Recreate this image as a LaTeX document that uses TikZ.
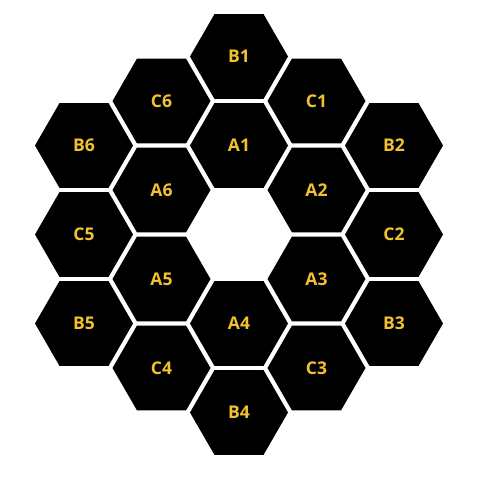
\documentclass[tikz,border=0pt]{standalone}
\usepackage{fontspec}
\setmainfont{Open Sans}
\usetikzlibrary{shapes.geometric}
\definecolor{segtext}{HTML}{F2C12E}
\tikzset{
  seg/.style={regular polygon, regular polygon sides=6, fill=black, draw=none,
    minimum size=98pt, inner sep=0pt, outer sep=0pt,
    text=segtext, font=\fontsize{17.5}{19}\selectfont\bfseries}
}
\begin{document}
\begin{tikzpicture}[x=1pt,y=1pt]
\useasboundingbox (0,0) rectangle (480,480);
% lattice: center (239,245.5) in TikZ coords (y = 480 - py)
\def\cx{239}\def\cy{245.5}\def\dx{77.5}\def\dy{89}
\node[seg] (B1) at (\cx, \cy+2*\dy) {B1};
\node[seg] (A1) at (\cx, \cy+\dy) {A1};
\node[seg] (A4) at (\cx, \cy-\dy) {A4};
\node[seg] (B4) at (\cx, \cy-2*\dy) {B4};
\node[seg] (C6) at (\cx-\dx, \cy+1.5*\dy) {C6};
\node[seg] (A6) at (\cx-\dx, \cy+0.5*\dy) {A6};
\node[seg] (A5) at (\cx-\dx, \cy-0.5*\dy) {A5};
\node[seg] (C4) at (\cx-\dx, \cy-1.5*\dy) {C4};
\node[seg] (C1) at (\cx+\dx, \cy+1.5*\dy) {C1};
\node[seg] (A2) at (\cx+\dx, \cy+0.5*\dy) {A2};
\node[seg] (A3) at (\cx+\dx, \cy-0.5*\dy) {A3};
\node[seg] (C3) at (\cx+\dx, \cy-1.5*\dy) {C3};
\node[seg] (B6) at (\cx-2*\dx, \cy+\dy) {B6};
\node[seg] (C5) at (\cx-2*\dx, \cy) {C5};
\node[seg] (B5) at (\cx-2*\dx, \cy-\dy) {B5};
\node[seg] (B2) at (\cx+2*\dx, \cy+\dy) {B2};
\node[seg] (C2) at (\cx+2*\dx, \cy) {C2};
\node[seg] (B3) at (\cx+2*\dx, \cy-\dy) {B3};
\end{tikzpicture}
\end{document}
